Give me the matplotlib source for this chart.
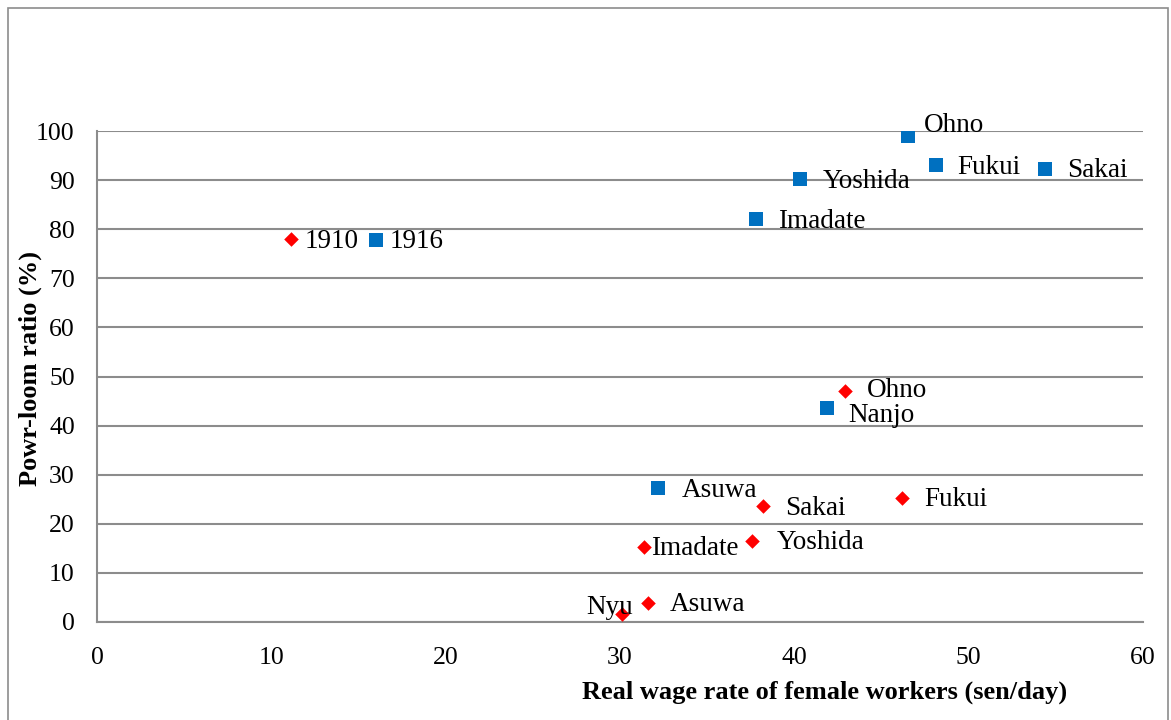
import matplotlib.pyplot as plt
from matplotlib.patches import Rectangle

# 1916 (blue squares)
names_1916 = ['Ohno', 'Fukui', 'Sakai', 'Yoshida', 'Imadate', '1916', 'Nanjo', 'Asuwa']
wage_1916 = [46.5, 48.1, 54.4, 40.3, 37.8, 16.0, 41.9, 32.2]
ratio_1916 = [99.0, 93.0, 92.3, 90.2, 82.0, 77.8, 43.5, 27.3]

# 1910 (red diamonds)
names_1910 = ['1910', 'Ohno', 'Fukui', 'Sakai', 'Yoshida', 'Imadate', 'Asuwa', 'Nyu']
wage_1910 = [11.1, 42.9, 46.2, 38.2, 37.6, 31.4, 31.6, 30.1]
ratio_1910 = [78.0, 47.0, 25.3, 23.6, 16.5, 15.3, 3.9, 1.6]

# label offsets in pixels (dx, dy, ha)
off_1916 = [(16, 10, 'left'), (22, -2, 'left'), (22, -2, 'left'), (23, -2, 'left'),
            (22, -2, 'left'), (14, -1, 'left'), (21, -7, 'left'), (23, -3, 'left')]
off_1910 = [(14, -2, 'left'), (22, 1, 'left'), (22, -2, 'left'), (22, -2, 'left'),
            (24, -2, 'left'), (7, -2, 'left'), (22, -2, 'left'), (11, 7, 'right')]

plt.rcParams['font.family'] = 'Liberation Serif'
grey = '#8c8c8c'

fig = plt.figure(figsize=(11.71, 7.2), dpi=100)
ax = fig.add_axes([97 / 1171, 1 - 622 / 720, (1143 - 97) / 1171, (622 - 131) / 720])

ax.scatter(wage_1916, ratio_1916, marker='s', s=110, color='#0070C0', zorder=3, linewidths=0)
ax.scatter(wage_1910, ratio_1910, marker='D', s=55, color='#FF0000', zorder=3, linewidths=0)

for n, x, y, (dx, dy, ha) in zip(names_1916, wage_1916, ratio_1916, off_1916):
    ax.annotate(n, (x, y), xytext=(dx, dy), textcoords='offset pixels',
                ha=ha, va='center', fontsize=19.5, zorder=4)
for n, x, y, (dx, dy, ha) in zip(names_1910, wage_1910, ratio_1910, off_1910):
    ax.annotate(n, (x, y), xytext=(dx, dy), textcoords='offset pixels',
                ha=ha, va='center', fontsize=19.5, zorder=4)

ax.set_xlim(0, 60)
ax.set_ylim(0, 100)
ax.set_xticks(range(0, 61, 10))
ax.set_yticks(range(0, 101, 10))
ax.tick_params(length=0, labelsize=18.5)
ax.tick_params(axis='y', pad=16)
ax.tick_params(axis='x', pad=18)
ax.grid(axis='y', color=grey, linewidth=1.5)
ax.set_axisbelow(True)
for s in ['top', 'right']:
    ax.spines[s].set_visible(False)
for s in ['left', 'bottom']:
    ax.spines[s].set_color(grey)
    ax.spines[s].set_linewidth(1.5)

fig.text(30 / 1171, 1 - 368 / 720, 'Powr-loom ratio (%)', rotation=90,
         ha='center', va='center', fontsize=19, fontweight='bold')
fig.text(825 / 1171, 1 - 692 / 720, 'Real wage rate of female workers (sen/day)',
         ha='center', va='center', fontsize=19, fontweight='bold')

fig.patches.append(Rectangle((8 / 1171, -0.01), 1160 / 1171, 1 - 8 / 720 + 0.01,
                             transform=fig.transFigure, fill=False, edgecolor=grey, linewidth=1.2))

fig.savefig('out.png', dpi=100)
